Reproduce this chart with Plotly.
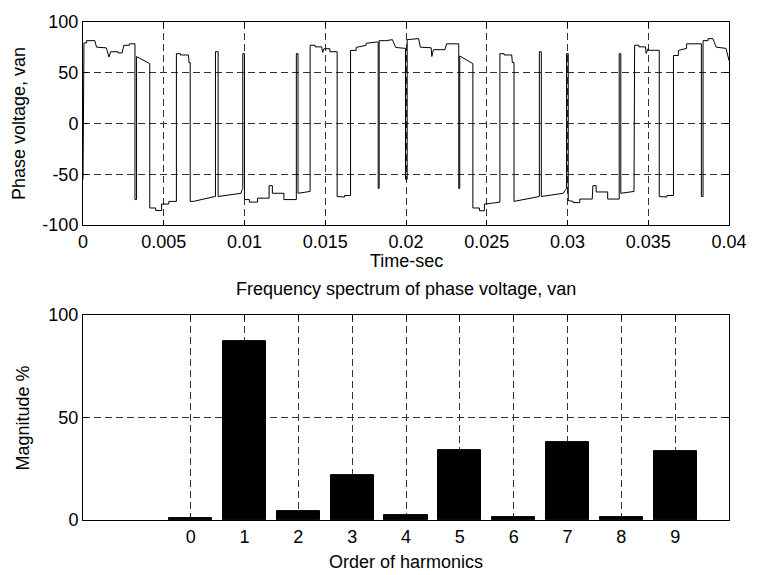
import plotly.graph_objects as go

# ---- Data: phase voltage waveform (time in seconds, voltage) ----
time_s = [
    0.0, 0.00006, 0.000226, 0.000226, 0.000733, 0.000837, 0.001447, 0.001606, 0.00171, 0.002156,
    0.002156, 0.002424, 0.002522, 0.00287, 0.00287, 0.003218, 0.003218, 0.003316, 0.003316, 0.004134,
    0.004134, 0.004501, 0.004501, 0.004867, 0.004867, 0.005313, 0.005313, 0.005783, 0.005783, 0.006027,
    0.006027, 0.006534, 0.006565, 0.006638, 0.006638, 0.00684, 0.008165, 0.008202, 0.008202, 0.008366,
    0.008366, 0.009789, 0.009832, 0.009893, 0.009893, 0.009997, 0.009997, 0.010302, 0.010302, 0.010809,
    0.010809, 0.011524, 0.011524, 0.011725, 0.011725, 0.01244, 0.01244, 0.013209, 0.013209, 0.013313,
    0.013313, 0.014064, 0.014064, 0.01437, 0.01437, 0.014779, 0.01484, 0.014919, 0.015285, 0.015285,
    0.015737, 0.015737, 0.016202, 0.016202, 0.016568, 0.016568, 0.016916, 0.016916, 0.017527, 0.017527,
    0.018241, 0.018278, 0.018278, 0.018339, 0.018339, 0.018748, 0.019157, 0.019359, 0.01956, 0.019866,
    0.019969, 0.019969, 0.020073, 0.020073,
    0.020782, 0.020885, 0.021557, 0.0216, 0.021698, 0.022412, 0.022516, 0.023267, 0.023267, 0.023328,
    0.023328, 0.02414, 0.02414, 0.024549, 0.024549, 0.024855, 0.024855, 0.025362, 0.025814, 0.025814,
    0.026076, 0.026076, 0.026547, 0.026583, 0.026687, 0.026687, 0.028257, 0.028257, 0.028379, 0.028379,
    0.02974, 0.029844, 0.029942, 0.029942, 0.030046, 0.030046, 0.030351, 0.030351, 0.03076, 0.03076,
    0.03153, 0.031573, 0.031774, 0.031774, 0.032489, 0.032489, 0.033203, 0.033203, 0.033301, 0.033301,
    0.034119, 0.034156, 0.034424, 0.034424, 0.034827, 0.03487, 0.034992, 0.035072, 0.035682, 0.035682,
    0.036153, 0.036153, 0.036562, 0.036562, 0.036867, 0.036867, 0.037374, 0.037374, 0.03829, 0.03829,
    0.038394, 0.038394, 0.038699, 0.038699, 0.039005, 0.039206, 0.039511, 0.039817, 0.04,
]
van_v = [
    -55.0, 79.4, 79.4, 81.6, 81.6, 75.2, 74.5, 65.5, 70.7, 70.7,
    69.5, 69.5, 77.0, 77.0, 78.5, 78.5, -75.0, -75.0, 65.9, 59.0,
    -83.3, -83.3, -85.8, -85.8, -79.4, -79.4, -76.8, -76.8, 68.8, 68.8,
    67.5, 67.5, 60.0, 60.0, -76.8, -76.8, -72.0, -72.0, 70.7, 70.7,
    -72.0, -68.8, -66.0, -64.0, 68.8, 68.8, -75.0, -75.0, -77.5, -77.5,
    -73.6, -73.6, -61.3, -61.3, -68.8, -68.8, -75.0, -75.0, 68.8, 68.8,
    -68.8, -67.0, 77.1, 77.1, 75.5, 75.5, 70.0, 73.7, 73.7, 70.7,
    70.7, -72.0, -72.5, -71.0, -71.0, 72.0, 72.0, 75.0, 77.0, 79.0,
    80.4, 80.4, -64.0, -64.0, 81.6, 81.6, 82.6, 75.0, 74.6, 74.3,
    74.0, -55.0, -55.0, 82.6,
    83.6, 75.2, 74.6, 66.0, 72.7, 72.7, 78.5, 78.5, -64.0, -64.0,
    66.5, 59.0, -83.3, -83.3, -86.0, -86.0, -79.4, -78.5, -77.5, 68.8,
    68.8, 67.5, 67.5, 60.0, 60.0, -76.8, -72.0, 70.7, 70.7, -72.0,
    -68.8, -66.0, -64.0, 68.8, 68.8, -76.0, -76.8, -78.0, -78.0, -74.5,
    -74.5, -61.3, -61.3, -67.5, -67.5, -74.5, -74.5, 68.8, 68.8, -68.8,
    -67.0, 77.1, 77.1, 75.5, 75.5, 69.0, 73.7, 72.1, 72.1, -72.0,
    -72.5, -71.0, -71.0, 67.0, 67.0, 72.0, 74.0, 78.5, 78.5, -72.0,
    -72.0, 81.6, 81.6, 83.6, 83.6, 75.2, 74.6, 74.0, 62.0,
]

# ---- Data: harmonic spectrum ----
harmonic_order = [0, 1, 2, 3, 4, 5, 6, 7, 8, 9]
magnitude_pct = [0.8, 87.4, 4.5, 21.9, 2.4, 34.0, 1.6, 37.8, 1.6, 33.5]

# ---- Tick labels ----
time_ticks = [0, 0.005, 0.01, 0.015, 0.02, 0.025, 0.03, 0.035, 0.04]
time_ticklabels = ["0", "0.005", "0.01", "0.015", "0.02", "0.025", "0.03", "0.035", "0.04"]
volt_ticks = [-100, -50, 0, 50, 100]
volt_ticklabels = ["-100", "-50", "0", "50", "100"]
mag_ticks = [0, 50, 100]
mag_ticklabels = ["0", "50", "100"]

FONT = "Liberation Sans, Arial, sans-serif"
FS = 18

fig = go.Figure()
fig.add_trace(go.Scatter(x=time_s, y=van_v, mode="lines",
                         line=dict(color="black", width=1), xaxis="x", yaxis="y",
                         showlegend=False, hoverinfo="skip"))
fig.add_trace(go.Bar(x=harmonic_order, y=magnitude_pct, width=0.8,
                     marker=dict(color="black", line=dict(color="black", width=1)),
                     xaxis="x2", yaxis="y2", showlegend=False))

axis_common = dict(showline=True, linecolor="black", linewidth=1, mirror="ticks",
                   ticks="inside", ticklen=5, tickcolor="black",
                   showgrid=True, gridcolor="#333333", gridwidth=1, griddash="7px,4px",
                   zeroline=False, tickfont=dict(family=FONT, size=FS, color="black"))

fig.update_layout(
    width=759, height=575,
    margin=dict(l=83, r=21, t=12, b=55),
    paper_bgcolor="white", plot_bgcolor="white",
    font=dict(family=FONT, size=FS, color="black"),
    bargap=0,
    xaxis=dict(domain=[0, 1], range=[0, 0.04], tickvals=time_ticks, ticktext=time_ticklabels,
               anchor="y", **axis_common),
    yaxis=dict(domain=[0.5925, 1], range=[-100, 100], tickvals=volt_ticks,
               ticktext=volt_ticklabels, anchor="x", **axis_common),
    xaxis2=dict(domain=[0, 1], range=[-2, 10], tickvals=harmonic_order,
                anchor="y2", **axis_common),
    yaxis2=dict(domain=[0, 0.4114], range=[0, 100], tickvals=mag_ticks,
                ticktext=mag_ticklabels, anchor="x2", **axis_common),
    annotations=[
        dict(text="Time-sec", xref="paper", yref="paper", x=0.5, y=0.52,
             xanchor="center", yanchor="middle", showarrow=False, font=dict(size=FS)),
        dict(text="Frequency spectrum of phase voltage, van", xref="paper", yref="paper",
             x=0.5, y=0.464, xanchor="center", yanchor="middle", showarrow=False,
             font=dict(size=FS)),
        dict(text="Order of harmonics", xref="paper", yref="paper", x=0.5, y=-0.085,
             xanchor="center", yanchor="middle", showarrow=False, font=dict(size=FS)),
        dict(text="Phase voltage, van", xref="paper", yref="paper", x=-0.1, y=0.796,
             xanchor="center", yanchor="middle", textangle=-90, showarrow=False,
             font=dict(size=FS)),
        dict(text="Magnitude %", xref="paper", yref="paper", x=-0.093, y=0.2057,
             xanchor="center", yanchor="middle", textangle=-90, showarrow=False,
             font=dict(size=FS)),
    ],
)

fig.write_html("out.html")
